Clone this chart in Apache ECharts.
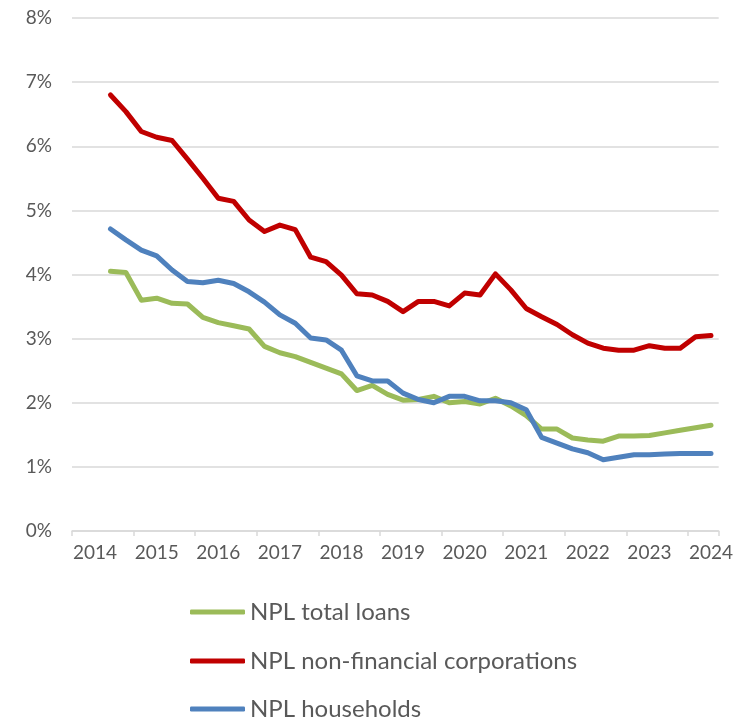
<!DOCTYPE html>
<html>
<head>
<meta charset="utf-8">
<script src="https://cdn.jsdelivr.net/npm/echarts@6/dist/echarts.min.js"></script>
<style>
html,body{margin:0;padding:0;background:#fff;}
#chart{width:736px;height:719px;}
</style>
</head>
<body>
<div id="chart"></div>
<script>
// Quarterly categories: 2013Q4 .. 2024Q1 (year label shown at each Q1)
const quarters = (function(){
  const q = ['2013Q4'];
  for (let y = 2014; y <= 2024; y++) {
    for (let k = 1; k <= 4; k++) {
      if (y === 2024 && k > 1) break;
      q.push(y + 'Q' + k);
    }
  }
  return q;
})();

const seriesNames = ['NPL total loans', 'NPL non-financial corporations', 'NPL households'];

const nplTotal = [null, null,
  4.05, 4.03, 3.60, 3.63, 3.55, 3.54, 3.33, 3.25, 3.20, 3.15,
  2.88, 2.78, 2.72, 2.63, 2.54, 2.45, 2.19, 2.27, 2.13, 2.04,
  2.05, 2.10, 2.00, 2.02, 1.98, 2.07, 1.95, 1.80, 1.59, 1.59,
  1.45, 1.42, 1.40, 1.48, 1.48, 1.49, 1.53, 1.57, 1.61, 1.65];

const nplNFC = [null, null,
  6.80, 6.54, 6.23, 6.14, 6.09, 5.80, 5.50, 5.19, 5.14, 4.85,
  4.67, 4.77, 4.70, 4.27, 4.20, 3.99, 3.70, 3.68, 3.58, 3.42,
  3.58, 3.58, 3.51, 3.71, 3.68, 4.01, 3.76, 3.47, 3.34, 3.22,
  3.06, 2.93, 2.85, 2.82, 2.82, 2.89, 2.85, 2.85, 3.03, 3.05];

const nplHouseholds = [null, null,
  4.71, 4.54, 4.38, 4.29, 4.07, 3.89, 3.87, 3.91, 3.86, 3.73,
  3.57, 3.37, 3.24, 3.01, 2.98, 2.82, 2.42, 2.34, 2.34, 2.15,
  2.05, 2.00, 2.10, 2.10, 2.03, 2.03, 2.00, 1.89, 1.46, 1.37,
  1.28, 1.22, 1.11, 1.15, 1.19, 1.19, 1.20, 1.21, 1.21, 1.21];

const yTicks = [0, 1, 2, 3, 4, 5, 6, 7, 8];
const colors = ['#9BBB59', '#C00000', '#4F81BD'];

const chart = echarts.init(document.getElementById('chart'), null, {renderer: 'canvas'});
const font = 'Lato, "Open Sans", sans-serif';

function mk(name, data, color) {
  return {
    name: name, type: 'line', data: data,
    showSymbol: false, symbol: 'none',
    lineStyle: {width: 5, color: color, cap: 'round', join: 'round'},
    itemStyle: {color: color},
    connectNulls: false,
    animation: false
  };
}

function legendFor(i, top) {
  return {
    orient: 'horizontal', left: 190, top: top, padding: 0,
    icon: 'roundRect', itemWidth: 55, itemHeight: 5,
    textStyle: {color: '#595959', fontSize: 24, fontFamily: font, lineHeight: 24},
    data: [seriesNames[i]]
  };
}

chart.setOption({
  animation: false,
  grid: {left: 72, right: 14, top: 18, bottom: 188, containLabel: false},
  xAxis: {
    type: 'category',
    data: quarters,
    boundaryGap: true,
    axisLine: {show: true, lineStyle: {color: '#D9D9D9', width: 1.5}},
    axisTick: {show: true, length: 5, lineStyle: {color: '#D9D9D9', width: 1.5},
      interval: function(i){ return i % 4 === 0; }},
    axisLabel: {
      color: '#595959', fontSize: 19, fontFamily: font, margin: 12,
      interval: function(i){ return i % 4 === 1; },
      formatter: function(v){ return v.slice(0, 4); }
    },
    splitLine: {show: false}
  },
  yAxis: {
    type: 'value', min: yTicks[0], max: yTicks[yTicks.length - 1], interval: 1,
    axisLine: {show: false}, axisTick: {show: false},
    axisLabel: {color: '#595959', fontSize: 19, fontFamily: font, margin: 20,
      formatter: function(v){ return v + '%'; }},
    splitLine: {show: true, lineStyle: {color: '#D9D9D9', width: 1.5}}
  },
  legend: [legendFor(0, 600), legendFor(1, 649), legendFor(2, 697)],
  series: [
    mk(seriesNames[0], nplTotal, colors[0]),
    mk(seriesNames[1], nplNFC, colors[1]),
    mk(seriesNames[2], nplHouseholds, colors[2])
  ]
});
</script>
</body>
</html>
